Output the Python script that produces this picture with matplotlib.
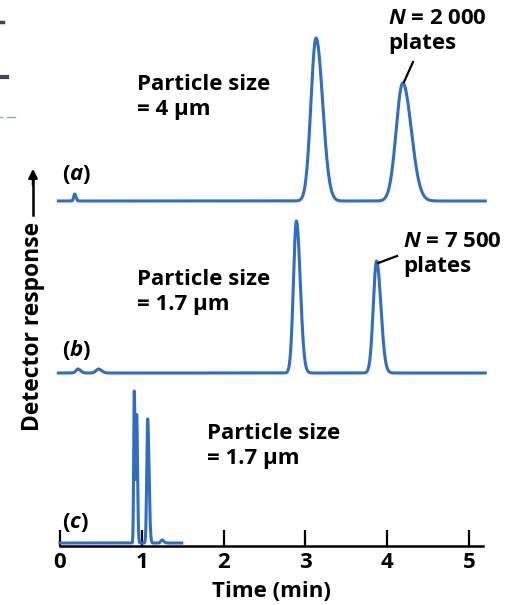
import numpy as np
import matplotlib.pyplot as plt
from matplotlib.lines import Line2D

plt.rcParams['font.family'] = ['Open Sans', 'DejaVu Sans']
plt.rcParams['font.weight'] = 'bold'
plt.rcParams['mathtext.fontset'] = 'custom'
plt.rcParams['mathtext.bfit'] = 'Open Sans:italic:bold'
plt.rcParams['mathtext.it'] = 'Open Sans:italic:bold'

# peak data for each chromatogram: retention time (min), height, width (min)
a_times = [0.18, 3.13, 4.19]
a_heights = [7, 163, 118]
a_widths = [0.012, 0.062, 0.080]

b_times = [0.22, 0.47, 2.89, 3.87]
b_heights = [4, 4, 152, 112]
b_widths = [0.025, 0.030, 0.036, 0.040]

c_times = [0.908, 0.938, 1.072, 1.247]
c_heights = [152, 126, 124, 3]
c_widths = [0.007, 0.007, 0.011, 0.015]

x_ticks = [0, 1, 2, 3, 4, 5]

blue = '#2f6ec4'


def trace(t, times, heights, widths, tail=1.3):
    y = np.zeros_like(t)
    for t0, h, s in zip(times, heights, widths):
        s_arr = np.where(t < t0, s, s * tail)
        y += h * np.exp(-0.5 * ((t - t0) / s_arr) ** 2)
    return y


fig = plt.figure(figsize=(5.18, 6.05), dpi=100)
ax = fig.add_axes([57.5 / 518, 59 / 605, 427.9 / 518, 546 / 605])
ax.set_xlim(-0.03, 5.2)
ax.set_ylim(0, 546)

ta = np.arange(-0.02, 5.2, 0.001)
tc = np.arange(0.0, 1.49, 0.001)
ax.plot(ta, 345 + trace(ta, a_times, a_heights, a_widths), color=blue, lw=2.2, clip_on=False)
ax.plot(ta, 173 + trace(ta, b_times, b_heights, b_widths), color=blue, lw=2.2, clip_on=False)
ax.plot(tc, 3 + trace(tc, c_times, c_heights, c_widths, tail=1.5), color=blue, lw=2.2, clip_on=False)

for s in ['top', 'right', 'left']:
    ax.spines[s].set_visible(False)
ax.spines['bottom'].set_linewidth(1.8)
ax.spines['bottom'].set_bounds(0, 5.17)
ax.set_yticks([])
ax.set_xticks(x_ticks)
ax.tick_params(axis='x', direction='in', length=11.5, width=1.6, labelsize=16, pad=4)
for lbl in ax.get_xticklabels():
    lbl.set_fontweight('bold')
ax.set_xlabel('Time (min)', fontsize=16, fontweight='bold', labelpad=6)

fs = 16
ls = 1.27
ax.text(0.94, 472, 'Particle size\n= 4 μm', fontsize=fs, va='top', ha='left', linespacing=ls)
ax.text(0.94, 277, 'Particle size\n= 1.7 μm', fontsize=fs, va='top', ha='left', linespacing=ls)
ax.text(1.80, 123, 'Particle size\n= 1.7 μm', fontsize=fs, va='top', ha='left', linespacing=ls)

ax.text(4.01, 538, '$\\mathbfit{N}$ = 2 000\nplates', fontsize=fs, va='top', ha='left', linespacing=ls)
ax.text(4.19, 315, '$\\mathbfit{N}$ = 7 500\nplates', fontsize=fs, va='top', ha='left', linespacing=ls)
ax.plot([4.315, 4.205], [484, 464], color='black', lw=1.6)
ax.plot([4.12, 3.89], [290, 283], color='black', lw=1.6)

ax.text(0.02, 383, '($\\mathbfit{a}$)', fontsize=fs, va='top', ha='left')
ax.text(0.02, 208, '($\\mathbfit{b}$)', fontsize=fs, va='top', ha='left')
ax.text(0.02, 35, '($\\mathbfit{c}$)', fontsize=fs, va='top', ha='left')

# y label with upward arrow
fig.text(33 / 518, 1 - 326 / 605, 'Detector response', rotation=90, fontsize=16.5,
         fontweight='bold', ha='center', va='center')
fig.add_artist(Line2D([33 / 518, 33 / 518], [1 - 215 / 605, 1 - 180 / 605], color='black', lw=1.8))
ax.annotate('', xy=(33 / 518, 1 - 166 / 605), xytext=(33 / 518, 1 - 188 / 605),
            xycoords='figure fraction', textcoords='figure fraction',
            arrowprops=dict(arrowstyle='-|>', color='black', lw=1.8, mutation_scale=13))

# crop leftovers at the left edge
fig.add_artist(Line2D([0, 3 / 518], [1 - 22 / 605] * 2, color='#444455', lw=2.5))
fig.add_artist(Line2D([0, 7 / 518], [1 - 77 / 605] * 2, color='#444455', lw=3))
fig.add_artist(Line2D([0, 2 / 518], [1 - 117 / 605] * 2, color='#8fa8c8', lw=1))
fig.add_artist(Line2D([7 / 518, 15 / 518], [1 - 117 / 605] * 2, color='#8fa8c8', lw=1))

fig.savefig('out.png', dpi=100)
